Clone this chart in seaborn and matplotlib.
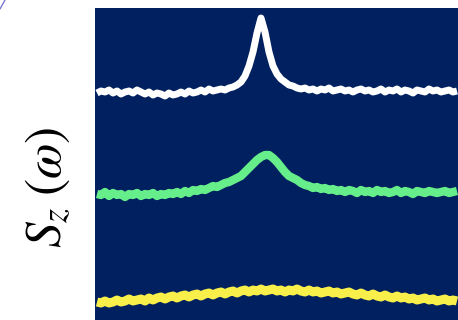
import numpy as np
import pandas as pd
import matplotlib
matplotlib.use("Agg")
import matplotlib.pyplot as plt
from matplotlib.lines import Line2D
import seaborn as sns

# Spectral densities S_z(omega), stacked with a vertical offset per trace
omega = np.linspace(-1.0, 1.0, 91)

top_trace = [227, 229, 228, 230, 227, 229, 226, 228, 229, 227,
             230, 228, 226, 228, 225, 227, 226, 224, 227, 225,
             226, 228, 226, 229, 227, 228, 230, 228, 231, 229,
             230, 231, 230, 232,
             233, 235, 238, 244, 254, 268, 287, 302, 288, 268,
             254, 246, 241, 238, 235, 234, 232,
             231, 232, 230, 231, 229, 231, 230, 232, 229, 230,
             231, 229, 230, 228, 230, 231, 229, 230, 228, 229,
             231, 228, 230, 229, 231, 228, 230, 229, 227, 230,
             229, 228, 231, 229, 230, 228, 229, 230, 228, 229]

middle_trace = [126, 125, 128, 124, 127, 125, 126, 123, 126, 125,
                127, 124, 126, 125, 127, 124, 126, 125,
                127, 126, 128, 126, 129, 127, 130, 129, 131, 130,
                132, 134, 133, 135, 137, 138, 140, 142, 144, 148,
                152, 156, 160, 163, 165, 165, 162, 158, 153, 148,
                144, 142, 140, 137, 135, 134, 132, 133, 131, 132,
                130,
                131, 129, 130, 128, 130, 129, 127, 130, 128, 129,
                127, 130, 128, 129, 127, 128, 130, 127, 129, 128,
                126, 129, 128, 127, 129, 128, 127, 128, 129, 127,
                128, 129]

bottom_trace = [18, 17, 19, 17, 18, 20, 18, 19, 21, 19,
                20, 21, 19, 22, 20, 22, 23, 21, 23, 24,
                22, 24, 25, 23, 25, 26, 24, 26, 27, 25,
                27, 28, 26, 28, 29, 27, 29, 30, 28, 30,
                29, 31, 29, 30, 31, 29, 30, 28, 30, 29,
                31, 29, 28, 30, 28, 29, 27, 28, 29, 27,
                28, 26, 27, 28, 26, 25, 27, 25, 24, 26,
                24, 23, 25, 23, 22, 24, 22, 23, 21, 22,
                20, 21, 22, 20, 21, 19, 20, 21, 19, 20,
                19]

traces = {"top": top_trace, "middle": middle_trace, "bottom": bottom_trace}
colors = {"top": "#ffffff", "middle": "#66ee8a", "bottom": "#f8ef4a"}
widths = {"top": 5.0, "middle": 6.0, "bottom": 6.5}

sns.set_style("white")
plt.rcParams["mathtext.fontset"] = "stix"

W, H = 458, 320
fig = plt.figure(figsize=(W / 100, H / 100), dpi=100)
fig.patch.set_facecolor("white")

ax = fig.add_axes([95 / W, 0.0, 1 - 95 / W, (H - 8) / H])
ax.set_facecolor("#002060")

for name, vals in traces.items():
    df = pd.DataFrame({"omega": omega, "S": vals})
    sns.lineplot(data=df, x="omega", y="S", ax=ax, color=colors[name],
                 linewidth=widths[name], solid_joinstyle="round",
                 solid_capstyle="butt", legend=False)

step = omega[1] - omega[0]
ax.set_xlim(omega[0] - 0.5 * step, omega[-1] + 0.25 * step)
ax.set_ylim(0, 312)
ax.set_xticks([])
ax.set_yticks([])
ax.set_xlabel("")
ax.set_ylabel("")
for s in ax.spines.values():
    s.set_visible(False)

fig.text(48 / W, (H - 187) / H, r"$S_{z}\;(\omega)$", rotation=90,
         ha="center", va="center", fontsize=37, color="black")

# thin violet stroke in the upper-left corner
fig.add_artist(Line2D([0 / W, 5 / W], [(H - 9) / H, 1.0],
                      transform=fig.transFigure, color="#7a78d0", lw=1.0))

fig.savefig("out.png", dpi=100, facecolor="white")
